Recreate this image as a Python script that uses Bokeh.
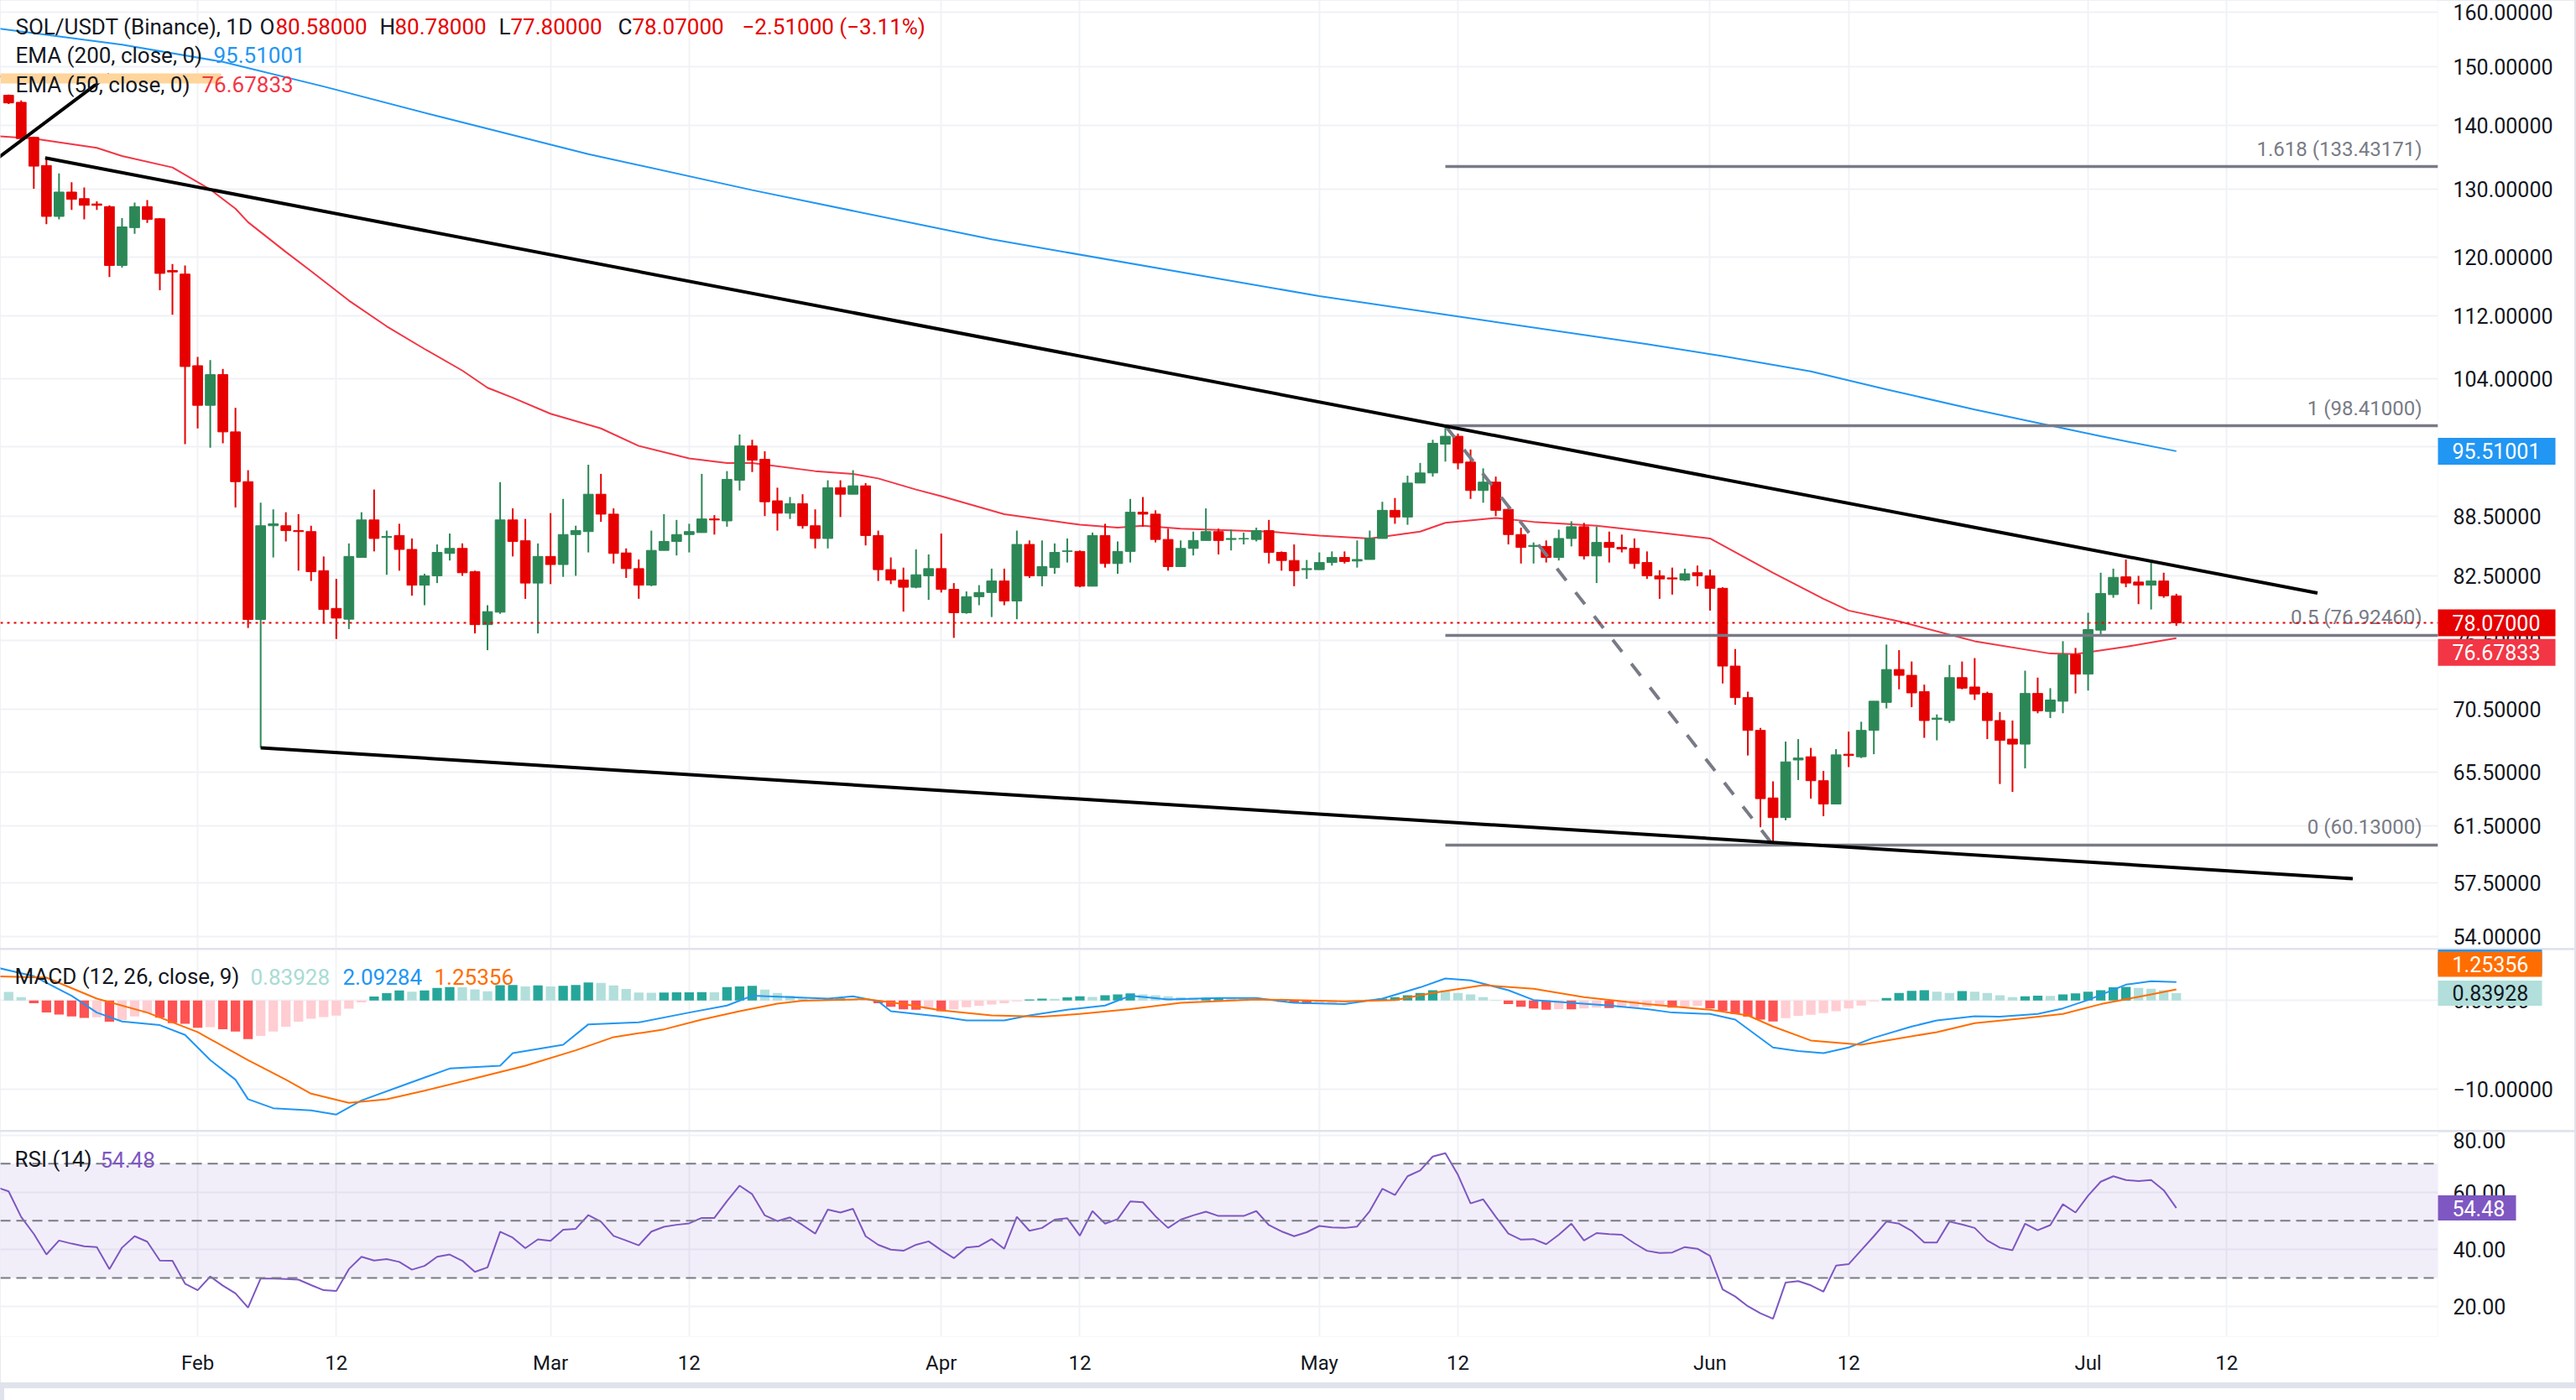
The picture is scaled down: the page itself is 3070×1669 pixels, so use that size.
import math
from bokeh.plotting import figure
from bokeh.models import (Range1d, FixedTicker, Label, Span, BoxAnnotation, Div,
                          PrintfTickFormatter)
from bokeh.layouts import column
from bokeh.embed import file_html
from bokeh.resources import INLINE
from bokeh.core.properties import value

# ---------------------------------------------------------------- data
# SOL/USDT daily candles; x is the day number counted from Jan 1 (= 0)
first_day = 16
opens = [145.1, 143.9, 138.1, 133.6, 125.85, 129.5, 128.5, 127.7, 127.3, 118.8,
         124.2, 127.3, 125.5, 118.1, 117.6, 105.6, 100.8, 104.5, 97.7, 92.15,
         78.37, 87.5, 87.5, 87.0, 86.9, 83.0, 79.4, 78.4, 84.3, 88.1,
         86.3, 86.5, 85.1, 81.6, 82.5, 84.7, 85.2, 82.9, 77.9, 79.05,
         88.1, 85.97, 81.8, 84.4, 83.6, 86.6, 86.9, 90.8, 88.7, 84.75,
         83.2, 81.6, 85.0, 85.9, 86.6, 86.8, 88.2, 88.0, 92.3, 96.1,
         94.6, 90.1, 88.8, 89.8, 87.5, 86.2, 91.5, 90.8, 91.7, 86.5,
         83.1, 82.1, 81.4, 82.5, 83.2, 81.2, 79.0, 80.5, 80.9, 82.0,
         80.1, 85.6, 82.5, 83.3, 84.9, 84.9, 81.5, 86.5, 83.7, 84.9,
         88.9, 88.7, 86.1, 83.4, 85.2, 86.0, 86.9, 86.1, 86.15, 86.1,
         87.0, 84.8, 84.0, 83.1, 83.1, 83.8, 84.3, 83.95, 84.1, 86.2,
         89.1, 88.4, 92.0, 93.1, 96.3, 97.2, 94.3, 91.2, 92.1, 89.2,
         86.6, 85.4, 85.4, 84.3, 86.2, 87.4, 84.45, 85.8, 85.3, 85.2,
         83.8, 82.5, 82.3, 82.1, 82.8, 82.5, 81.3, 74.2, 71.5, 68.8,
         63.55, 62.1, 66.45, 66.7, 64.85, 63.1, 66.9, 66.7, 68.8, 71.1,
         73.9, 73.4, 72.0, 69.7, 69.6, 73.2, 72.4, 71.85, 69.6, 68.1,
         67.7, 71.85, 70.35, 71.2, 75.2, 73.5, 77.4, 80.7, 82.4, 81.9,
         81.6, 82.0, 80.58]
highs = [145.2, 144.2, 138.2, 134.96, 132.35, 131.0, 130.2, 128.1, 127.5, 125.6,
         127.9, 128.3, 125.6, 119.0, 118.8, 106.7, 106.3, 105.2, 100.5, 93.4,
         89.9, 89.2, 88.9, 88.7, 87.5, 84.4, 82.2, 85.7, 88.9, 91.3,
         87.0, 87.7, 86.2, 82.7, 85.6, 86.7, 85.7, 83.0, 79.7, 92.1,
         89.3, 88.2, 85.7, 88.8, 90.3, 87.5, 94.0, 93.0, 89.3, 85.2,
         84.1, 87.0, 88.7, 88.1, 87.7, 93.0, 88.6, 93.3, 97.4, 96.8,
         95.5, 91.5, 90.5, 90.8, 89.2, 92.3, 92.3, 93.4, 92.0, 87.0,
         84.3, 83.3, 85.1, 84.6, 86.7, 81.8, 81.0, 81.6, 83.2, 83.2,
         87.0, 86.0, 86.0, 85.7, 86.2, 85.0, 86.8, 87.7, 85.9, 90.3,
         90.5, 89.1, 87.2, 86.0, 86.9, 89.3, 87.2, 87.1, 86.8, 87.3,
         88.1, 84.9, 85.6, 84.05, 84.8, 84.9, 84.9, 86.0, 87.0, 90.0,
         90.4, 92.8, 94.2, 96.8, 98.41, 97.5, 95.7, 93.6, 92.7, 89.4,
         87.3, 85.8, 86.0, 87.1, 87.96, 87.8, 87.4, 86.9, 86.6, 86.2,
         84.9, 83.05, 83.3, 83.2, 83.5, 83.1, 81.4, 75.7, 72.0, 69.0,
         64.8, 67.9, 68.1, 67.4, 65.6, 67.3, 68.7, 69.5, 71.2, 76.1,
         75.6, 74.6, 72.6, 70.1, 74.3, 74.6, 74.9, 72.0, 70.3, 69.6,
         73.8, 73.2, 72.3, 76.4, 75.8, 79.0, 82.8, 83.2, 84.1, 82.5,
         83.8, 82.8, 80.78]
lows = [143.6, 137.6, 130.0, 124.7, 125.4, 126.8, 125.4, 126.8, 117.2, 118.5,
        123.3, 124.9, 115.4, 112.1, 96.3, 98.1, 95.9, 96.4, 89.4, 77.6,
        67.4, 84.3, 85.9, 83.0, 82.0, 78.0, 76.6, 77.5, 84.3, 84.9,
        82.6, 83.0, 80.6, 79.7, 81.8, 84.0, 82.5, 77.1, 75.6, 78.9,
        84.4, 80.3, 77.1, 81.7, 82.4, 82.5, 84.8, 87.9, 83.7, 82.3,
        80.3, 81.5, 85.0, 84.5, 84.8, 86.8, 86.6, 87.4, 91.2, 93.2,
        88.5, 87.0, 88.2, 87.2, 85.2, 85.2, 88.4, 90.8, 85.5, 82.0,
        81.7, 79.1, 81.3, 80.2, 80.9, 76.7, 78.9, 79.7, 78.6, 79.7,
        78.4, 82.3, 81.5, 82.7, 83.8, 81.4, 81.5, 83.3, 82.7, 83.8,
        87.4, 85.8, 83.0, 83.4, 84.5, 86.0, 84.6, 85.0, 85.6, 85.9,
        83.7, 83.0, 81.5, 82.2, 83.1, 83.5, 83.7, 83.3, 84.1, 86.2,
        87.7, 87.6, 92.0, 92.7, 94.35, 93.5, 90.3, 89.9, 88.5, 85.6,
        83.7, 83.7, 83.8, 84.0, 85.4, 84.1, 81.8, 83.8, 84.8, 83.2,
        82.2, 80.3, 80.7, 82.0, 81.5, 79.2, 72.7, 70.9, 66.8, 61.4,
        60.13, 61.9, 64.9, 63.5, 62.2, 63.1, 65.9, 66.6, 66.9, 70.6,
        72.2, 70.7, 68.2, 68.0, 69.4, 72.2, 71.3, 68.1, 64.6, 64.0,
        65.8, 70.2, 69.8, 70.2, 71.85, 72.1, 76.9, 80.4, 81.4, 79.8,
        79.3, 80.4, 77.80]
closes = [143.8, 137.9, 133.5, 125.85, 129.5, 128.4, 127.5, 127.5, 118.8, 124.3,
          127.3, 125.4, 117.7, 117.9, 105.5, 100.8, 104.5, 97.7, 92.15, 78.37,
          87.5, 87.7, 87.0, 86.9, 82.9, 79.3, 78.5, 84.4, 88.1, 86.2,
          86.4, 85.1, 81.6, 82.5, 84.8, 85.2, 82.8, 77.9, 79.1, 88.1,
          85.9, 81.8, 84.4, 83.6, 86.6, 87.0, 90.8, 88.7, 84.7, 83.2,
          81.6, 85.0, 85.9, 86.6, 86.9, 88.2, 88.1, 92.4, 96.1, 94.5,
          90.0, 88.8, 89.8, 87.5, 86.2, 91.5, 90.8, 91.7, 86.5, 83.1,
          82.1, 81.4, 82.6, 83.2, 81.2, 79.0, 80.5, 80.9, 82.0, 80.1,
          85.6, 82.5, 83.4, 84.8, 84.95, 81.5, 86.5, 83.7, 84.9, 88.9,
          88.7, 86.1, 83.4, 85.2, 86.0, 86.9, 86.0, 86.2, 86.2, 87.0,
          84.8, 84.0, 83.0, 83.2, 83.8, 84.3, 83.9, 84.1, 86.2, 89.1,
          88.4, 92.0, 93.1, 96.4, 97.2, 94.2, 91.2, 92.1, 89.1, 86.6,
          85.3, 85.5, 84.3, 86.2, 87.4, 84.45, 85.8, 85.3, 85.15, 83.7,
          82.5, 82.2, 82.2, 82.7, 82.5, 81.3, 74.2, 71.5, 68.8, 63.5,
          62.1, 66.3, 66.6, 64.85, 63.1, 66.85, 66.8, 68.8, 71.2, 73.9,
          73.4, 71.9, 69.6, 69.8, 73.2, 72.3, 71.8, 69.6, 68.0, 67.7,
          71.85, 70.4, 71.3, 75.2, 73.5, 77.45, 80.8, 82.35, 81.8, 81.6,
          82.0, 80.58, 78.07]
days = list(range(first_day, first_day + len(closes)))

ema50_days = [15, 18, 23, 25, 29, 32, 34, 35, 38, 40, 43, 46, 49, 52, 54, 56, 59, 63, 66,
              70, 73, 75, 80, 83, 85, 88, 90, 95, 101, 104, 106, 109, 116, 120, 124, 128,
              130, 134, 137, 142, 147, 151, 156, 160, 162, 166, 172, 178, 180, 184, 188]
ema50_vals = [138.3, 137.9, 136.4, 135.1, 133.3, 129.9, 127.0, 125.0, 120.7, 118.0, 114.0,
              110.6, 107.7, 105.0, 102.9, 101.7, 99.8, 98.1, 96.1, 94.7, 94.2, 94.2, 93.3,
              93.0, 92.5, 91.3, 90.6, 88.7, 87.6, 87.3, 87.5, 87.2, 86.9, 86.5, 86.2, 86.9,
              87.8, 88.3, 87.9, 87.5, 86.8, 86.2, 82.8, 80.3, 79.2, 78.2, 76.4, 75.3, 75.25,
              75.9, 76.67833]
ema200_days = [15, 25, 33, 41, 50, 62, 75, 94, 120, 146, 152, 159, 165, 172, 182, 188]
ema200_vals = [157.0, 154.0, 150.9, 146.6, 141.6, 135.4, 129.8, 122.5, 114.6, 108.3,
               106.8, 104.9, 102.7, 100.3, 97.2, 95.51001]

# MACD (12, 26, close, 9)
hist_first_day = 16
macd_hist = [0.97, 0.38, -0.31, -1.35, -1.59, -1.8, -1.97, -1.9, -2.39, -2.2,
             -1.8, -1.45, -1.94, -2.56, -2.63, -3.08, -3.0, -3.25, -3.5, -4.36,
             -4.0, -3.5, -2.97, -2.39, -2.07, -1.87, -1.7, -0.93, -0.2, 0.45,
             0.83, 1.14, 1.0, 1.14, 1.42, 1.52, 1.5, 1.25, 1.04, 1.73,
             1.76, 1.59, 1.7, 1.59, 1.66, 1.76, 2.04, 2.0, 1.7, 1.31,
             0.9, 0.88, 0.9, 0.92, 0.94, 0.96, 0.93, 1.52, 1.59, 1.66,
             1.23, 0.85, 0.54, 0.22, 0.1, 0.15, 0.25, 0.15, 0.05, -0.3,
             -0.7, -1.0, -1.04, -1.0, -1.2, -1.0, -0.75, -0.6, -0.45, -0.3,
             -0.1, 0.13, 0.22, 0.2, 0.35, 0.47, 0.4, 0.6, 0.7, 0.8,
             0.7, 0.6, 0.47, 0.38, 0.3, 0.32, 0.35, 0.3, 0.28, 0.22,
             0.1, -0.15, -0.3, -0.4, -0.35, -0.3, -0.2, -0.1, 0.1, 0.22,
             0.38, 0.6, 0.85, 1.17, 1.15, 0.85, 0.7, 0.38, 0.06, -0.41,
             -0.72, -0.9, -1.04, -0.98, -1.0, -0.9, -0.8, -0.85, -0.8, -0.75,
             -0.7, -0.65, -0.8, -0.7, -0.6, -0.9, -1.2, -1.52, -1.83, -2.15,
             -2.37, -2.0, -1.74, -1.6, -1.42, -1.2, -0.9, -0.57, -0.1, 0.28,
             0.85, 1.1, 1.17, 1.0, 0.85, 1.07, 1.0, 0.85, 0.6, 0.38,
             0.47, 0.54, 0.53, 0.7, 0.8, 1.0, 1.17, 1.49, 1.55, 1.42,
             1.33, 1.17, 0.83928]
macd_days = [15, 18, 21, 23, 25, 28, 30, 32, 34, 35, 37, 40, 42, 44, 47, 51, 55, 56, 60, 62,
             66, 70, 73, 75, 78, 81, 83, 85, 86, 90, 92, 95, 97, 100, 103, 105, 108, 112,
             115, 118, 122, 125, 128, 130, 132, 135, 137, 140, 143, 146, 148, 151, 153,
             156, 158, 160, 162, 164, 167, 169, 172, 174, 177, 179, 181, 184, 186, 188]
macd_vals = [3.75, 2.75, 0.54, -1.36, -2.37, -2.78, -3.89, -6.74, -8.95, -11.16,
             -12.18, -12.43, -12.9, -11.3, -9.74, -7.69, -7.37, -5.95, -5.0, -2.69,
             -2.47, -1.36, -0.57, 0.54, 0.38, 0.22, 0.47, -0.09, -1.2, -1.83,
             -2.25, -2.25, -1.68, -1.04, -0.57, 0.54, 0.13, 0.28, 0.28, -0.25,
             -0.41, 0.22, 1.49, 2.5, 2.28, 1.17, 0.06, -0.25, -0.57, -0.98,
             -1.36, -1.52, -2.15, -5.31, -5.72, -5.95, -5.31, -4.21, -2.94, -2.25,
             -1.77, -1.83, -1.52, -0.89, 0.06, 1.8, 2.18, 2.09284]
signal_days = [15, 19, 23, 27, 31, 35, 38, 40, 43, 46, 49, 53, 57, 61, 64, 68, 71, 74, 77,
               79, 84, 87, 90, 94, 98, 101, 105, 109, 115, 118, 122, 126, 129, 133, 137,
               141, 146, 151, 154, 156, 159, 163, 165, 169, 172, 176, 179, 182, 186, 188]
signal_vals = [2.75, 2.59, 0.22, -1.36, -3.57, -6.74, -8.95, -10.53, -11.57, -11.16,
               -10.2, -8.79, -7.37, -5.63, -4.14, -3.26, -2.15, -1.2, -0.35, -0.03,
               0.16, -0.41, -1.11, -1.68, -1.83, -1.52, -0.98, -0.25, 0.13, 0.06,
               -0.09, 0.06, 0.85, 1.74, 1.33, 0.38, -0.41, -1.04, -1.68, -2.94,
               -4.52, -5.0, -4.52, -3.57, -2.56, -2.0, -1.52, -0.41, 0.7, 1.25356]

# RSI (14)
rsi_first_day = 15
rsi_vals = [61.8, 60.3, 51.3, 45.4, 38.2, 43.1, 42.0, 41.1, 40.8, 33.1,
            40.6, 44.6, 42.7, 36.1, 36.0, 28.0, 25.7, 30.5, 27.3, 24.6,
            19.6, 29.8, 29.8, 29.6, 29.4, 27.5, 25.7, 25.4, 33.1, 37.4,
            36.1, 36.6, 35.6, 32.9, 34.2, 37.4, 38.2, 36.0, 32.1, 33.7,
            46.2, 44.1, 40.4, 43.5, 43.0, 46.9, 47.2, 52.0, 49.7, 44.7,
            43.1, 41.4, 46.2, 47.9, 48.6, 49.1, 51.0, 51.0, 56.9, 62.3,
            59.3, 51.9, 49.9, 51.2, 48.5, 45.5, 53.9, 52.9, 54.2, 44.6,
            41.6, 39.9, 39.5, 41.6, 42.8, 39.7, 36.9, 40.6, 41.1, 43.6,
            40.2, 51.4, 46.5, 47.5, 50.4, 50.9, 44.8, 53.4, 49.0, 50.6,
            56.8, 56.5, 51.6, 47.5, 50.4, 51.9, 53.2, 51.7, 51.7, 51.7,
            53.4, 48.5, 46.3, 44.6, 46.0, 48.2, 47.7, 47.5, 48.0, 53.4,
            61.2, 59.0, 65.6, 67.6, 72.5, 73.7, 66.1, 56.1, 57.5, 51.4,
            45.5, 43.4, 43.6, 41.8, 45.1, 49.0, 43.1, 45.7, 45.3, 45.1,
            42.1, 39.5, 38.7, 38.9, 40.8, 40.2, 37.7, 26.0, 23.5, 20.1,
            17.6, 15.7, 28.4, 28.9, 27.4, 25.2, 34.3, 34.8, 39.7, 44.6,
            49.7, 49.0, 46.5, 42.4, 42.4, 49.7, 48.7, 47.5, 43.1, 40.6,
            39.7, 49.0, 46.7, 48.5, 55.8, 52.9, 58.8, 63.7, 65.6, 64.3,
            63.9, 64.3, 60.7, 54.48]

# drawings: channel lines (day, price anchors) and Fibonacci retracement
upper_line_x = [18.9, 199.2]
upper_line_y = [134.8, 80.84]
lower_line_x = [36.0, 202.0]
lower_line_y = [67.4, 57.8]
steep_line_x = [13.0, 24.0]
steep_line_y = [131.6, 148.7]
fib_start_day = 130
fib_levels = ["1.618", "1", "0.5", "0"]
fib_prices = [133.43171, 98.41, 76.9246, 60.13]
fib_swing_x = [130, 156]
fib_swing_y = [98.41, 60.13]

price_ticks = [160, 150, 140, 130, 120, 112, 104, 96, 88.5, 82.5, 76.5, 70.5, 65.5,
               61.5, 57.5, 54]
tick_days = [31, 42, 59, 70, 90, 101, 120, 131, 151, 162, 181, 192]
tick_labels = ["Feb", "12", "Mar", "12", "Apr", "12", "May", "12", "Jun", "12",
               "Jul", "12"]

# ---------------------------------------------------------------- styling
FONT = "Roboto"
TXT = "#131722"
GRAY = "#787B86"
GRID = "#F0F2F5"
UP = "#2C8756"
DOWN = "#E60000"
EMA50_C = "#F23645"
EMA200_C = "#2196F3"
SCALE_FS = "25px"

FW = 2905
PH, MH, RH = 1130, 215, 244
RIGHT = 163
X0, X1 = 15.35, 208.76
P_TOP, P_BOT = 162.2, 53.26
M_TOP, M_BOT = 5.72, -14.68
R_TOP, R_BOT = 81.09, 9.43


def xd(px):
    return X0 + px * (X1 - X0) / FW


def yp(px):
    lt, lb = math.log(P_TOP), math.log(P_BOT)
    return math.exp(lt - px * (lt - lb) / PH)


def py(v):
    lt, lb = math.log(P_TOP), math.log(P_BOT)
    return (lt - math.log(v)) / (lt - lb) * PH


def ym(px):
    return M_TOP - px * (M_TOP - M_BOT) / MH


def pm(v):
    return (M_TOP - v) / (M_TOP - M_BOT) * MH


def yr(px):
    return R_TOP - px * (R_TOP - R_BOT) / RH


def pr(v):
    return (R_TOP - v) / (R_TOP - R_BOT) * RH


xr = Range1d(X0, X1)


def make_fig(h, y_range, log=False, bottom=0):
    f = figure(frame_width=FW, frame_height=h, x_range=xr, y_range=y_range,
               y_axis_type="log" if log else "linear",
               x_axis_location="below" if bottom else None, y_axis_location="right",
               output_backend="svg", toolbar_location=None,
               min_border_left=0, min_border_right=RIGHT, min_border_top=0,
               min_border_bottom=bottom, outline_line_color=None,
               background_fill_color="white", border_fill_color="white")
    ax = f.yaxis[0]
    ax.axis_line_color = None
    ax.major_tick_line_color = None
    ax.minor_tick_line_color = None
    ax.major_tick_out = 0
    ax.major_tick_in = 0
    ax.major_label_standoff = 18
    ax.major_label_text_font = FONT
    ax.major_label_text_font_size = SCALE_FS
    ax.major_label_text_color = TXT
    f.ygrid.grid_line_color = GRID
    f.ygrid.grid_line_width = 2
    f.xgrid.ticker = FixedTicker(ticks=tick_days)
    f.xgrid.grid_line_color = GRID
    f.xgrid.grid_line_width = 2
    return f


def text(f, x, y, s, color, size="26px", align="left"):
    f.add_layout(Label(x=x, y=y, text=s, text_color=color, text_font=FONT,
                       text_font_size=size, text_align=align, text_baseline="middle"))


def tag(f, yc, ytop, ybot, s, bg, fg="white", right_px=3045):
    # value tag sitting on the price scale, drawn above the frame clip
    f.quad(left=X1, right=xd(right_px), top=ytop, bottom=ybot, fill_color=bg,
           line_color=None, level="overlay")
    f.text(x=[xd(2922)], y=[yc], text=[s], text_color=fg, text_font=value(FONT),
           text_font_size=SCALE_FS, text_align="left", text_baseline="middle",
           level="overlay")


def price_tag(v, s, bg, shift=0):
    c = py(v) + shift
    tag(price, yp(c), yp(c - 16), yp(c + 16), s, bg)


def macd_tag(c, s, bg, fg="white"):
    tag(macd, ym(c), ym(c - 15), ym(c + 15), s, bg, fg=fg, right_px=3029)


# ---------------------------------------------------------------- price panel
price = make_fig(PH, Range1d(P_BOT, P_TOP), log=True)
price.yaxis.ticker = FixedTicker(ticks=price_ticks)
price.yaxis.formatter = PrintfTickFormatter(format="%.5f")

price.line(ema200_days, ema200_vals, line_color=EMA200_C, line_width=2)
price.line(ema50_days, ema50_vals, line_color=EMA50_C, line_width=2)

colors = [UP if c >= o else DOWN for o, c in zip(opens, closes)]
body_top = [max(o, c) for o, c in zip(opens, closes)]
body_bot = [min(o, c) for o, c in zip(opens, closes)]
price.segment(days, lows, days, highs, line_color=colors, line_width=2)
price.vbar(x=days, top=body_top, bottom=body_bot, width=0.78, fill_color=colors,
           line_color=colors, line_width=1)

# Fibonacci retracement
for lvl, val in zip(fib_levels, fib_prices):
    price.segment(fib_start_day, val, X1, val, line_color=GRAY, line_width=3.5)
    text(price, xd(2886), yp(py(val) - 21), f"{lvl} ({val:.5f})", GRAY, size="24px",
         align="right")
price.line(fib_swing_x, fib_swing_y, line_color=GRAY, line_width=4, line_dash="18 18")

# channel
price.line(upper_line_x, upper_line_y, line_color="black", line_width=4)
price.line(lower_line_x, lower_line_y, line_color="black", line_width=4)
price.line(steep_line_x, steep_line_y, line_color="black", line_width=4)

price.add_layout(Span(location=closes[-1], dimension="width", line_color=DOWN,
                      line_width=2, line_dash="3 5"))

# legend block
price.add_layout(BoxAnnotation(left=X0, right=xd(263), top=yp(87), bottom=yp(99),
                               fill_color="#FFD59C", fill_alpha=1.0, line_color=None))
price.segment(X0, yp(90.7), xd(262), yp(90.7), line_color="black", line_width=2,
              line_dash="9 7")
text(price, xd(18), yp(31), "SOL/USDT (Binance), 1D", TXT)
hdr = [("O", 309, 19, f"{opens[-1]:.5f}"), ("H", 452, 18, f"{highs[-1]:.5f}"),
       ("L", 594, 14, f"{lows[-1]:.5f}"), ("C", 736, 17, f"{closes[-1]:.5f}")]
for letter, px, gap, val in hdr:
    text(price, xd(px), yp(31), letter, TXT)
    text(price, xd(px + gap), yp(31), val, DOWN)
chg = closes[-1] - closes[-2]
text(price, xd(884), yp(31),
     f"\u2212{abs(chg):.5f} (\u2212{abs(chg) / closes[-2] * 100:.2f}%)", DOWN)
text(price, xd(18), yp(65), "EMA (200, close, 0)", TXT)
text(price, xd(254), yp(65), f"{ema200_vals[-1]:.5f}", EMA200_C)
text(price, xd(18), yp(100), "EMA (50, close, 0)", TXT)
text(price, xd(240), yp(100), f"{ema50_vals[-1]:.5f}", EMA50_C)

price_tag(ema200_vals[-1], f"{ema200_vals[-1]:.5f}", EMA200_C)
price_tag(closes[-1], f"{closes[-1]:.5f}", DOWN)
price_tag(ema50_vals[-1], f"{ema50_vals[-1]:.5f}", EMA50_C, shift=17)

# ---------------------------------------------------------------- MACD panel
macd = make_fig(MH, Range1d(M_BOT, M_TOP))
macd.yaxis.ticker = FixedTicker(ticks=[0, -10])
macd.yaxis.major_label_overrides = {0: "0.00000", -10: "\u221210.00000"}

hist_days = list(range(hist_first_day, hist_first_day + len(macd_hist)))
hist_colors = []
prev = macd_hist[0]
for v in macd_hist:
    if v >= 0:
        hist_colors.append("#26A69A" if v > prev else "#B2DFDB")
    else:
        hist_colors.append("#FFCDD2" if v > prev else "#FF5252")
    prev = v
macd.vbar(x=hist_days, top=macd_hist, bottom=0, width=0.75, fill_color=hist_colors,
          line_color=None)
macd.line(macd_days, macd_vals, line_color="#2196F3", line_width=2)
macd.line(signal_days, signal_vals, line_color="#FF6D00", line_width=2)

text(macd, xd(17), ym(31.6), "MACD (12, 26, close, 9)", TXT)
text(macd, xd(298), ym(31.6), f"{macd_hist[-1]:.5f}", "#A8DCD3")
text(macd, xd(408), ym(31.6), f"{macd_vals[-1]:.5f}", "#2196F3")
text(macd, xd(517), ym(31.6), f"{signal_vals[-1]:.5f}", "#FF6D00")
macd_tag(14, f"{macd_vals[-1]:.5f}", "#2196F3")
macd_tag(17, f"{signal_vals[-1]:.5f}", "#FF6D00")
macd_tag(pm(macd_hist[-1]), f"{macd_hist[-1]:.5f}", "#B2DFDB", fg=TXT)

# ---------------------------------------------------------------- RSI panel
rsi = make_fig(RH, Range1d(R_BOT, R_TOP), bottom=55)
rsi.yaxis.ticker = FixedTicker(ticks=[80, 60, 40, 20])
rsi.yaxis.formatter = PrintfTickFormatter(format="%.2f")
xa = rsi.xaxis[0]
xa.ticker = FixedTicker(ticks=tick_days)
xa.major_label_overrides = dict(zip(tick_days, tick_labels))
xa.axis_line_color = None
xa.major_tick_line_color = None
xa.minor_tick_line_color = None
xa.major_tick_out = 0
xa.major_tick_in = 0
xa.major_label_standoff = 17
xa.major_label_text_font = FONT
xa.major_label_text_font_size = "24px"
xa.major_label_text_color = TXT

rsi.add_layout(BoxAnnotation(bottom=30, top=70, fill_color="#7E57C2", fill_alpha=0.1,
                             line_color=None))
for lvl in (70, 50, 30):
    rsi.add_layout(Span(location=lvl, dimension="width", line_color=GRAY, line_width=2,
                        line_dash="12 7"))
rsi_days = list(range(rsi_first_day, rsi_first_day + len(rsi_vals)))
rsi.line(rsi_days, rsi_vals, line_color="#7E57C2", line_width=2)
text(rsi, xd(17), yr(32.8), "RSI (14)", TXT)
text(rsi, xd(119), yr(32.8), f"{rsi_vals[-1]:.2f}", "#7E57C2")
c = pr(rsi_vals[-1])
tag(rsi, rsi_vals[-1], yr(c - 15), yr(c + 15), f"{rsi_vals[-1]:.2f}", "#7E57C2",
    right_px=2998)

foot = Div(width=FW + RIGHT, height=19, styles={"background-color": "white"})
page = column(price, macd, rsi, foot, spacing=2,
              styles={"background-color": "#E0E3EB"})

open("out.html", "w").write(file_html(page, INLINE))
